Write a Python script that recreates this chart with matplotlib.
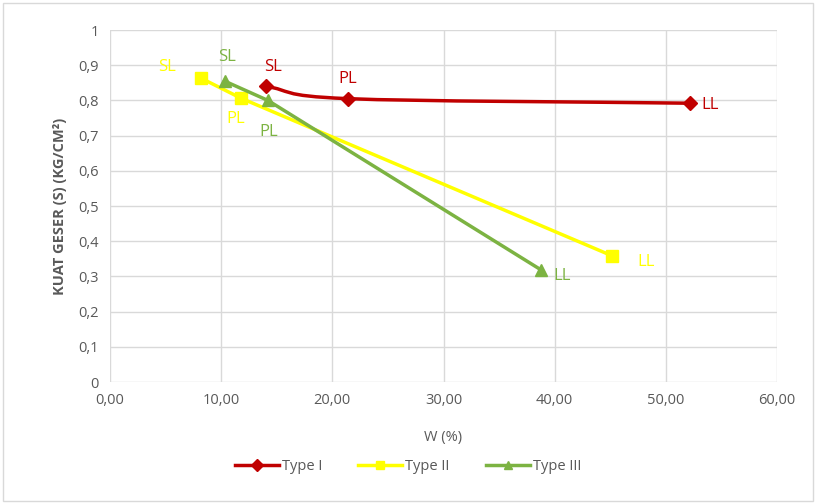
import matplotlib.pyplot as plt
import numpy as np
from matplotlib.path import Path
from matplotlib.patches import PathPatch, Rectangle
from matplotlib.lines import Line2D

plt.rcParams['font.family'] = ['Open Sans', 'DejaVu Sans']

# data
labels_pt = ['SL', 'PL', 'LL']
w_type1 = [14.0, 21.4, 52.2]
s_type1 = [0.84, 0.805, 0.792]
w_type2 = [8.2, 11.8, 45.2]
s_type2 = [0.863, 0.806, 0.358]
w_type3 = [10.3, 14.2, 38.8]
s_type3 = [0.855, 0.80, 0.318]

red = '#C00000'
yellow = '#FFFF00'
green = '#7CB342'
grey = '#595959'

fig = plt.figure(figsize=(8.16, 5.03), dpi=100)
fig.patches.append(Rectangle((0.004, 0.004), 0.992, 0.99, transform=fig.transFigure,
                             fill=False, edgecolor='#D9D9D9', lw=1))
ax = fig.add_axes([110 / 816, 1 - 382 / 503, 667 / 816, 352 / 503])
ax.set_xlim(0, 60)
ax.set_ylim(0, 1)
ax.set_xticks(np.arange(0, 61, 10))
ax.set_xticklabels([f'{v:.2f}'.replace('.', ',') for v in np.arange(0, 61, 10)])
ax.set_yticks(np.arange(0, 1.01, 0.1))
ax.set_yticklabels(['0'] + [f'{v:.1f}'.replace('.', ',') for v in np.arange(0.1, 0.95, 0.1)] + ['1'])
ax.grid(True, color='#D9D9D9', lw=1)
ax.set_axisbelow(True)
for sp in ax.spines.values():
    sp.set_visible(False)
ax.tick_params(length=0, colors=grey, labelsize=10.5, pad=8)
ax.set_xlabel('W (%)', color=grey, fontsize=10.5, labelpad=16)
ax.set_ylabel('KUAT GESER (S) (KG/CM²)', color=grey, fontsize=10.5, fontweight='bold', labelpad=8)


# smooth line for Type I (Excel-style smoothed line)
def smooth_path(xs, ys):
    pts = np.column_stack([xs, ys])
    verts = [pts[0]]
    codes = [Path.MOVETO]
    n = len(pts)
    for i in range(n - 1):
        p1 = pts[i]
        p2 = pts[i + 1]
        if i > 0:
            c1 = p1 + (p2 - pts[i - 1]) / 6
        else:
            c1 = p1 + (p2 - p1) / 3
        if i + 2 < n:
            c2 = p2 - (pts[i + 2] - p1) / 6
        else:
            c2 = p2 - (p2 - p1) / 3
        verts += [c1, c2, p2]
        codes += [Path.CURVE4] * 3
    return Path(verts, codes)


ax.add_patch(PathPatch(smooth_path(w_type1, s_type1), fill=False, edgecolor=red, lw=2.5, zorder=3))
ax.plot(w_type1, s_type1, ls='none', marker='D', ms=7, color=red, zorder=4)
ax.plot(w_type2, s_type2, color=yellow, lw=2.5, marker='s', ms=9, zorder=2)
ax.plot(w_type3, s_type3, color=green, lw=2.5, marker='^', ms=8, zorder=3)

# point labels
offs1 = [(5, 14), (0, 14), (8, -1)]
offs2 = [(-18, 8), (-4, -15), (18, -4)]
offs3 = [(2, 17), (1, -23), (9, -4)]
for xs, ys, offs, col in [(w_type1, s_type1, offs1, red),
                          (w_type2, s_type2, offs2, yellow),
                          (w_type3, s_type3, offs3, green)]:
    for x, y, lab, (dx, dy) in zip(xs, ys, labels_pt, offs):
        ha = 'left' if dx > 5 else ('right' if dx < -5 else 'center')
        ax.annotate(lab, (x, y), xytext=(dx, dy), textcoords='offset points',
                    ha=ha, va='center', color=col, fontsize=12, zorder=5)

handles = [Line2D([], [], color=red, lw=2.5, marker='D', ms=6),
           Line2D([], [], color=yellow, lw=2.5, marker='s', ms=6),
           Line2D([], [], color=green, lw=2.5, marker='^', ms=6)]
fig.legend(handles, ['Type I', 'Type II', 'Type III'], loc='center', bbox_to_anchor=(0.5, 1 - 467 / 503),
           ncol=3, frameon=False, fontsize=10.5, labelcolor=grey, handlelength=3,
           handletextpad=0.2, columnspacing=2.5)

fig.savefig('out.png', dpi=100)
